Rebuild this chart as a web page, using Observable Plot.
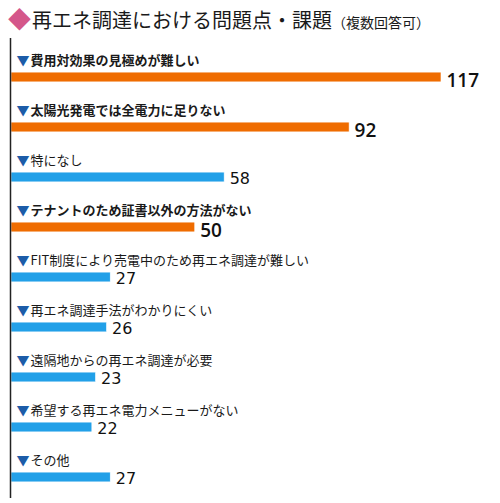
<!DOCTYPE html>
<html><head><meta charset="utf-8">
<script src="https://cdn.jsdelivr.net/npm/d3@7"></script>
<script src="https://cdn.jsdelivr.net/npm/@observablehq/plot@0.6"></script>
<style>
body{margin:0;background:#fff;font-family:"Noto Sans CJK JP","Noto Sans",sans-serif;}
#title{height:36px;line-height:36px;padding-left:8px;font-size:20px;color:#1a1a1a;white-space:nowrap;}
#title .d{color:#d4578a;font-size:23px;margin-right:1px;}
#title .s{font-size:14px;}
</style></head>
<body>
<div id="title"><span class="d">◆</span>再エネ調達における問題点・課題<span class="s">（複数回答可）</span></div>
<div id="chart"></div>
<script>
const categories = [
  "費用対効果の見極めが難しい",
  "太陽光発電では全電力に足りない",
  "特になし",
  "テナントのため証書以外の方法がない",
  "FIT制度により売電中のため再エネ調達が難しい",
  "再エネ調達手法がわかりにくい",
  "遠隔地からの再エネ調達が必要",
  "希望する再エネ電力メニューがない",
  "その他"
];
const values = [117, 92, 58, 50, 27, 26, 23, 22, 27];
const groups = ["top", "top", "other", "top", "other", "other", "other", "other", "other"];

const rows = categories.map((c, i) => ({category: c, value: values[i], group: groups[i]}));
const topRows = rows.filter(d => d.group === "top");
const otherRows = rows.filter(d => d.group === "other");

const chart = Plot.plot({
  width: 500,
  height: 467,
  marginLeft: 11,
  marginRight: 59,
  marginTop: 15,
  marginBottom: 0,
  style: {fontFamily: "'Noto Sans CJK JP', sans-serif", background: "#fff", overflow: "visible"},
  x: {domain: [0, 117], axis: null},
  y: {domain: categories, type: "band", padding: 0, axis: null},
  color: {domain: ["top", "other"], range: ["#ef6c00", "#22a0e8"]},
  marks: [
    Plot.barX(rows, {x: "value", y: "category", fill: "group", insetTop: 20.1, insetBottom: 20.1, stroke: "#fff", strokeWidth: 0.6}),
    Plot.text(rows, {x: 0, y: "category", text: () => "▼", dx: 5, dy: -17, textAnchor: "start", fill: "#1c5ca8", fontSize: 13, fontFamily: "'Noto Sans CJK JP'"}),
    Plot.text(topRows, {x: 0, y: "category", text: "category", dx: 19, dy: -17, textAnchor: "start", fill: "#1a1a1a", fontSize: 13, fontWeight: "bold"}),
    Plot.text(otherRows, {x: 0, y: "category", text: "category", dx: 19, dy: -17, textAnchor: "start", fill: "#1a1a1a", fontSize: 13}),
    Plot.text(topRows, {x: "value", y: "category", text: d => String(d.value), dx: 5, dy: 3, textAnchor: "start", fill: "#111", fontSize: 19, fontWeight: 600, fontFamily: "'Open Sans'"}),
    Plot.text(otherRows, {x: "value", y: "category", text: d => String(d.value), dx: 5, dy: 1, textAnchor: "start", fill: "#111", fontSize: 16, fontFamily: "DejaVu Sans"}),
    Plot.ruleX([0], {dx: -1, insetTop: -13, insetBottom: 5, stroke: "#222", strokeWidth: 1.5})
  ]
});
document.getElementById("chart").appendChild(chart);
</script>
</body></html>
